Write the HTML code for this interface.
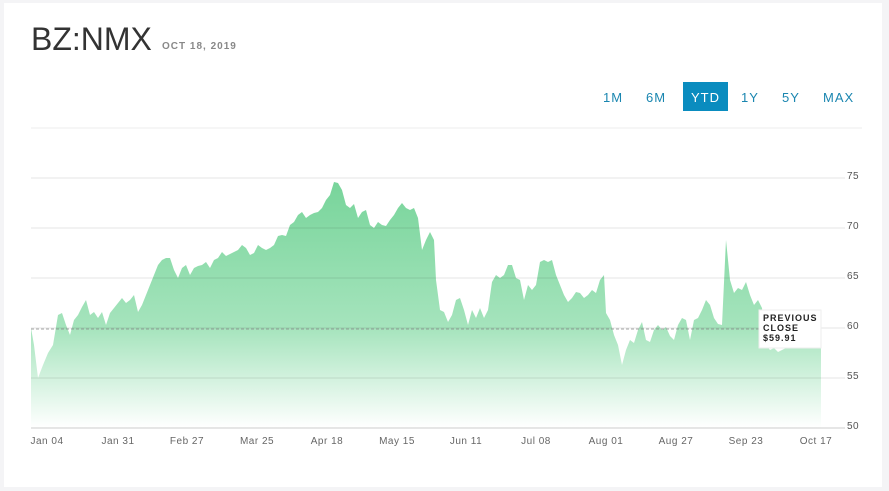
<!DOCTYPE html>
<html><head><style>
body{margin:0;width:889px;height:491px;background:#f4f4f6;overflow:hidden;font-family:"Liberation Sans",sans-serif}
.card{position:absolute;left:4px;top:3px;width:878px;height:484px;background:#fff}
</style></head><body>
<div class="card"></div>
<svg width="889" height="491" style="position:absolute;left:0;top:0" font-family="Liberation Sans, sans-serif">
<defs><linearGradient id="g" x1="0" y1="180" x2="0" y2="428" gradientUnits="userSpaceOnUse">
<stop offset="0" stop-color="#77d49a"/><stop offset="0.6" stop-color="#a6e4bd"/><stop offset="1" stop-color="#ffffff"/></linearGradient></defs>
<text x="31" y="50" font-size="32" fill="#333" font-weight="300">BZ:NMX</text>
<text x="162" y="49" font-size="10" fill="#888" font-weight="bold" letter-spacing="1">OCT 18, 2019</text>
<g font-size="13" fill="#1a86b0" letter-spacing="1">
<text x="603" y="102">1M</text><text x="646" y="102">6M</text>
<rect x="683" y="82" width="45" height="29" fill="#0a8cbf"/>
<text x="691" y="102" fill="#fff">YTD</text>
<text x="741" y="102">1Y</text><text x="782" y="102">5Y</text><text x="823" y="102">MAX</text></g>
<line x1="31" y1="128" x2="862" y2="128" stroke="#eee"/>
<path fill="url(#g)" d="M31,328 L34,345 38,378 43,365 48,353 53,345 58,315 62,313 66,325 70,335 74,320 78,315 82,307 86,300 90,315 94,312 98,318 102,312 106,325 110,313 114,308 118,303 122,298 126,303 130,300 134,295 138,312 142,305 146,295 150,285 154,275 158,265 162,260 166,258 170,258 174,270 178,278 182,268 186,265 190,275 194,268 198,266 202,265 206,262 210,268 214,260 218,258 222,252 226,256 230,254 234,252 238,250 242,245 246,248 250,255 254,253 258,245 262,248 266,250 270,248 274,245 278,236 282,235 286,236 290,225 294,222 298,215 302,212 306,218 310,215 314,213 318,212 322,208 326,200 330,195 334,182 338,183 342,190 346,205 350,208 354,204 358,218 362,212 366,210 370,225 374,228 378,222 382,225 386,226 390,220 394,215 398,208 402,203 406,208 410,210 414,208 418,218 422,250 426,240 430,232 434,240 436,280 440,310 444,312 448,322 452,315 456,300 460,298 464,310 468,325 472,310 476,318 480,308 484,318 488,310 492,282 496,275 500,278 504,275 508,265 512,265 516,278 520,280 524,300 528,285 532,290 536,285 540,262 544,260 548,262 552,260 556,275 560,285 564,295 568,302 572,298 576,292 580,293 584,298 588,295 592,290 596,293 600,280 604,275 606,313 610,320 614,335 618,345 622,365 626,350 630,340 634,343 638,330 642,322 646,340 650,342 654,330 658,325 662,330 666,327 670,336 674,340 678,325 682,318 686,320 690,340 694,320 698,318 702,310 706,300 710,305 714,318 718,324 722,325 726,240 730,280 734,293 738,288 742,290 746,282 750,295 754,305 758,300 762,308 766,345 770,350 774,348 778,352 782,350 790,346 800,344 810,345 821,344 L821,428 L31,428 Z"/>
<g stroke="#000" stroke-opacity="0.1">
<line x1="31" y1="178" x2="845" y2="178"/><line x1="31" y1="228" x2="845" y2="228"/><line x1="31" y1="278" x2="845" y2="278"/><line x1="31" y1="328" x2="845" y2="328"/><line x1="31" y1="378" x2="845" y2="378"/><line x1="31" y1="428" x2="845" y2="428" stroke-opacity="0.2"/></g>
<line x1="31" y1="329" x2="760" y2="329" stroke="#888" stroke-dasharray="3,2" stroke-width="0.8"/>
<g font-size="10" fill="#555" letter-spacing="0.5">
<text x="847" y="179">75</text><text x="847" y="229">70</text><text x="847" y="279">65</text><text x="847" y="329">60</text><text x="847" y="379">55</text><text x="847" y="429">50</text></g>
<g font-size="10" fill="#666" text-anchor="middle" letter-spacing="0.5">
<text x="47" y="444">Jan 04</text><text x="118" y="444">Jan 31</text><text x="187" y="444">Feb 27</text><text x="257" y="444">Mar 25</text><text x="327" y="444">Apr 18</text><text x="397" y="444">May 15</text><text x="466" y="444">Jun 11</text><text x="536" y="444">Jul 08</text><text x="606" y="444">Aug 01</text><text x="676" y="444">Aug 27</text><text x="746" y="444">Sep 23</text><text x="816" y="444">Oct 17</text></g>
<rect x="759" y="310" width="62" height="38" fill="#fff" stroke="#eee"/>
<g font-size="9" font-weight="bold" fill="#222" letter-spacing="1"><text x="763" y="321">PREVIOUS</text><text x="763" y="331">CLOSE</text><text x="763" y="341">$59.91</text></g>
</svg>
</body></html>
